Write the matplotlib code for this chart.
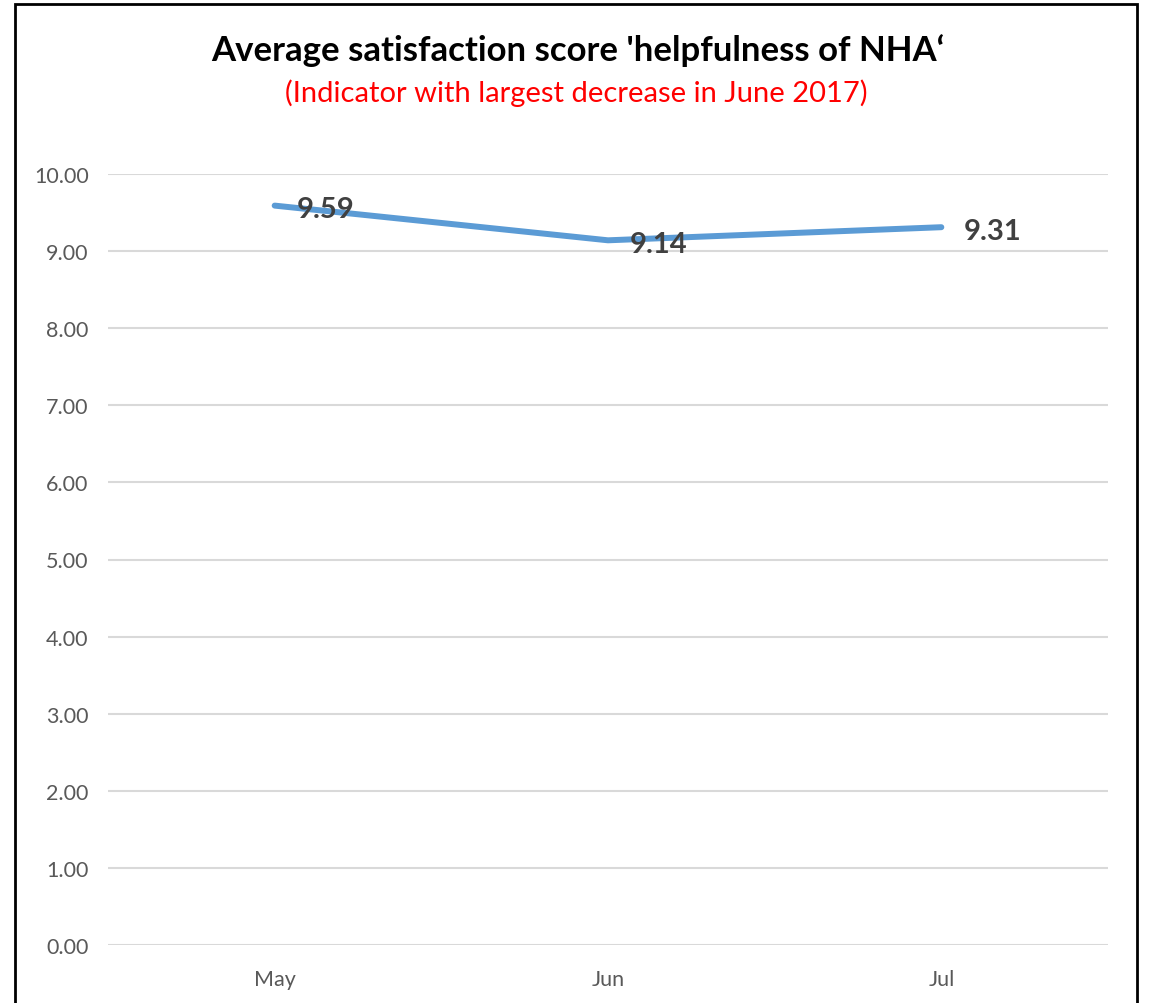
import matplotlib.pyplot as plt
from matplotlib.patches import Rectangle

months = ['May', 'Jun', 'Jul']
scores = [9.59, 9.14, 9.31]
yticks = [0, 1, 2, 3, 4, 5, 6, 7, 8, 9, 10]

plt.rcParams['font.family'] = ['Lato', 'DejaVu Sans']

W, H = 1150, 1004
fig = plt.figure(figsize=(W / 100, H / 100), dpi=100)
ax = fig.add_axes([108 / W, 1 - 946 / H, 1000 / W, (946 - 175) / H])

x = range(len(months))
ax.plot(x, scores, color='#5b9bd5', linewidth=4.3, solid_capstyle='round')
for xi, v in zip(x, scores):
    ax.annotate('%.2f' % v, (xi, v), xytext=(16, -2.5), textcoords='offset points',
                ha='left', va='center', fontsize=21, fontweight='bold', color='#404040')

ax.set_xlim(-0.5, len(months) - 0.5)
ax.set_ylim(0, 10)
ax.set_xticks(list(x))
ax.set_xticklabels(months)
ax.set_yticks(yticks)
ax.set_yticklabels(['%.2f' % t for t in yticks])
ax.tick_params(length=0, labelsize=15.5, labelcolor='#595959')
ax.tick_params(axis='x', pad=17)
ax.tick_params(axis='y', pad=14)
ax.grid(axis='y', color='#d9d9d9', linewidth=1.5)
ax.set_axisbelow(True)
for s in ax.spines.values():
    s.set_visible(False)

fig.text(578 / W, 1 - 51 / H, "Average satisfaction score 'helpfulness of NHA\u2018",
         ha='center', va='center', fontsize=25, fontweight='bold', color='black')
fig.text(576 / W, 1 - 93 / H, '(Indicator with largest decrease in June 2017)',
         ha='center', va='center', fontsize=21, color='red')

# outer border
fig.patches.append(Rectangle((15 / W, -0.01), (1137 - 15) / W, 1 - 5 / H + 0.01,
                             transform=fig.transFigure, fill=False,
                             edgecolor='black', linewidth=2))

fig.savefig('out.png', dpi=100)
